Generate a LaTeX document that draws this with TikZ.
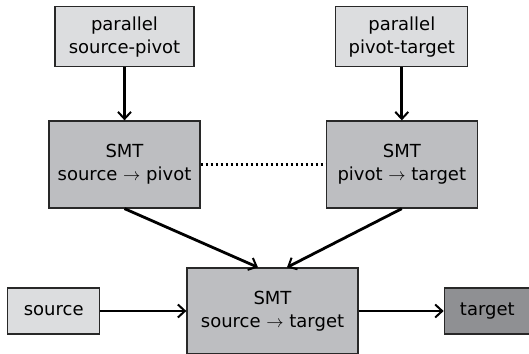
\documentclass[tikz,border=0pt]{standalone}
\usepackage{fontspec}
\setmainfont{DejaVu Sans}
\usepackage{tikz}
\usetikzlibrary{arrows.meta,positioning}

\definecolor{lightbox}{RGB}{220,221,223}
\definecolor{midbox}{RGB}{189,190,193}
\definecolor{darkbox}{RGB}{143,144,147}
\definecolor{edgegray}{RGB}{40,40,40}

\begin{document}
\begin{tikzpicture}[x=1pt,y=1pt,->,>={Straight Barb[length=7pt,width=13pt,line width=2pt]},
  line width=2.8pt,
  main node/.style={rectangle,draw=edgegray,line width=1.3pt,align=center,
    inner sep=0pt,font=\fontsize{18}{22.7}\selectfont},
  data node/.style={main node,fill=lightbox},
  smt node/.style={main node,fill=midbox,minimum width=151pt,minimum height=87pt}]

  \useasboundingbox (0,0) rectangle (529,353);

  \node[smt node] (smtsp) at (124.5,188.5) {SMT\\source $\rightarrow$ pivot};
  \node[smt node] (smtpt) [right=125pt of smtsp] {SMT\\pivot $\rightarrow$ target};
  \node[data node,minimum width=139pt,minimum height=60pt] (parsp) [above=53pt of smtsp] {parallel\\source-pivot};
  \node[data node,minimum width=132pt,minimum height=60pt] (parpt) [above=53pt of smtpt] {parallel\\pivot-target};

  \node[smt node,minimum width=171pt,minimum height=86pt] (smtst) at (272.5,42) {SMT\\source $\rightarrow$ target};
  \node[data node,minimum width=92pt,minimum height=46pt] (src) [left=86pt of smtst] {source};
  \node[main node,fill=darkbox,minimum width=86pt,minimum height=46pt] (tgt) [right=85pt of smtst] {target};

  \draw (parsp) -- (smtsp);
  \draw (parpt) -- (smtpt);
  \draw (smtsp.south) -- ([xshift=-14.5pt]smtst.north);
  \draw (smtpt.south) -- ([xshift=14.5pt]smtst.north);
  \draw (src) -- (smtst);
  \draw (smtst) -- (tgt);
  \draw[-,line width=2.6pt,dash pattern=on 2.6pt off 2.4pt] (smtsp) -- (smtpt);

\end{tikzpicture}
\end{document}
